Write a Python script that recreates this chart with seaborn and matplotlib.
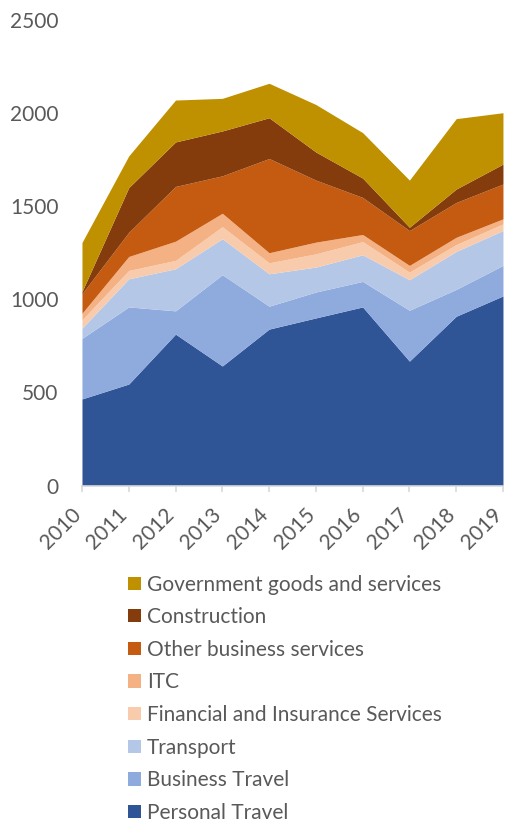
import matplotlib
matplotlib.use("Agg")
import matplotlib.pyplot as plt
import seaborn as sns
from matplotlib.patches import Patch

years = [2010, 2011, 2012, 2013, 2014, 2015, 2016, 2017, 2018, 2019]

personal_travel = [465, 545, 813, 642, 840, 900, 959, 668, 909, 1018]
business_travel = [325, 414, 125, 490, 123, 139, 137, 273, 144, 164]
transport = [55, 151, 226, 193, 174, 134, 143, 164, 204, 187]
financial_insurance = [45, 45, 45, 65, 59, 71, 71, 41, 37, 36]
itc = [35, 75, 103, 72, 54, 63, 38, 36, 39, 27]
other_business = [105, 130, 294, 201, 506, 333, 199, 187, 187, 187]
construction = [11, 240, 239, 241, 219, 151, 104, 18, 72, 107]
government = [264, 170, 225, 175, 185, 255, 244, 253, 378, 276]

series_names = [
    "Personal Travel",
    "Business Travel",
    "Transport",
    "Financial and Insurance Services",
    "ITC",
    "Other business services",
    "Construction",
    "Government goods and services",
]
series_values = [
    personal_travel, business_travel, transport, financial_insurance,
    itc, other_business, construction, government,
]
colors = ["#2F5597", "#8FAADC", "#B4C7E7", "#F8CBAD",
          "#F4B183", "#C55A11", "#843C0C", "#BF9000"]

y_ticks = [0, 500, 1000, 1500, 2000, 2500]

sns.set_theme(style="white")
plt.rcParams["font.family"] = ["Lato", "DejaVu Sans"]
text_color = "#595959"

fig = plt.figure(figsize=(5.06, 8.25), dpi=100)
ax = fig.add_axes([0.162, 0.4115, 0.832, 0.5643])

ax.stackplot(years, *series_values, colors=colors, linewidth=0)

ax.set_xlim(years[0], years[-1])
ax.set_ylim(0, 2500)
ax.set_yticks(y_ticks)
ax.set_yticklabels([str(v) for v in y_ticks], fontsize=15, color=text_color)
ax.set_xticks(years)
# rotated year labels anchored at the end of their baseline
ax.set_xticklabels([str(y) for y in years], rotation=45, ha="right",
                   va="baseline", rotation_mode="anchor", fontsize=15,
                   color=text_color)

sns.despine(ax=ax, left=True, top=True, right=True)
ax.spines["bottom"].set_color("#D9D9D9")
ax.spines["bottom"].set_linewidth(1.2)
ax.tick_params(axis="x", which="both", bottom=True, length=4.5, width=1.2,
               color="#D9D9D9", pad=17.5)
ax.tick_params(axis="y", left=False, pad=11)
ax.grid(False)

handles = [Patch(facecolor=c, edgecolor="none") for c in colors]
leg = fig.legend(handles[::-1], series_names[::-1], loc="upper left",
                 bbox_to_anchor=(0.253, 0.3035), frameon=False, fontsize=15,
                 handlelength=0.6, handleheight=0.6, handletextpad=0.3,
                 labelspacing=0.605, borderpad=0, borderaxespad=0)
for t in leg.get_texts():
    t.set_color(text_color)

fig.savefig("out.png", dpi=100)
